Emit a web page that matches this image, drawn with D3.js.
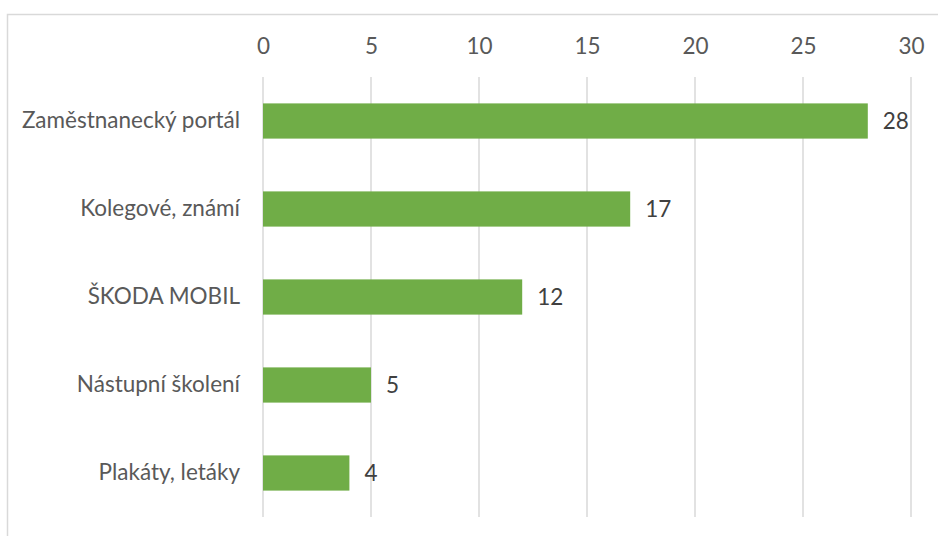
<!DOCTYPE html>
<html>
<head>
<meta charset="utf-8">
<script src="https://cdn.jsdelivr.net/npm/d3@7"></script>
<style>
  html, body { margin: 0; padding: 0; background: #ffffff; }
  svg { display: block; }
  text { font-family: Lato, "Open Sans", sans-serif; }
</style>
</head>
<body>
<svg id="chart" width="938" height="536"></svg>
<script>
// Information channels and number of responses
const categories = ["Zaměstnanecký portál", "Kolegové, známí", "ŠKODA MOBIL", "Nástupní školení", "Plakáty, letáky"];
const counts = [28, 17, 12, 5, 4];
const tickValues = [0, 5, 10, 15, 20, 25, 30];

const svg = d3.select("#chart");
const W = 938, H = 536;
const margin = { left: 263, right: 27, top: 77, bottom: 19 };
const fontSize = "22.5px";

// Chart area outline (extends past right and bottom edges)
svg.append("rect")
  .attr("x", 7.5).attr("y", 14.5)
  .attr("width", 1000).attr("height", 1000)
  .attr("fill", "none")
  .attr("stroke", "#d9d9d9")
  .attr("stroke-width", 1.5);

const x = d3.scaleLinear().domain([0, 30]).range([margin.left, W - margin.right]);
const y = d3.scaleBand().domain(categories)
  .range([margin.top, H - margin.bottom])
  .paddingInner(0.6).paddingOuter(0.3);

// Vertical gridlines
svg.append("g")
  .selectAll("line")
  .data(tickValues)
  .join("line")
  .attr("x1", d => x(d)).attr("x2", d => x(d))
  .attr("y1", margin.top).attr("y2", H - margin.bottom)
  .attr("stroke", "#d9d9d9")
  .attr("stroke-width", 1.5);

// Top value axis labels
const axis = d3.axisTop(x).tickValues(tickValues).tickSize(0).tickPadding(0);
const gAxis = svg.append("g").attr("transform", "translate(0,54)").call(axis);
gAxis.select(".domain").remove();
gAxis.selectAll("text")
  .attr("fill", "#595959")
  .style("font-size", fontSize)
  .style("font-family", "Lato, 'Open Sans', sans-serif");

// Category labels
const yAxis = d3.axisLeft(y).tickSize(0).tickPadding(23);
const gY = svg.append("g").attr("transform", `translate(${margin.left},0)`).call(yAxis);
gY.select(".domain").remove();
gY.selectAll("text")
  .attr("fill", "#595959")
  .style("font-size", fontSize)
  .style("font-family", "Lato, 'Open Sans', sans-serif");

// Bars
svg.append("g")
  .selectAll("rect")
  .data(categories)
  .join("rect")
  .attr("x", x(0))
  .attr("y", d => y(d))
  .attr("width", (d, i) => x(counts[i]) - x(0))
  .attr("height", y.bandwidth())
  .attr("fill", "#70ad47");

// Value labels
svg.append("g")
  .selectAll("text")
  .data(categories)
  .join("text")
  .attr("x", (d, i) => x(counts[i]) + 15)
  .attr("y", d => y(d) + y.bandwidth() / 2)
  .attr("dy", "0.35em")
  .attr("fill", "#404040")
  .style("font-size", fontSize)
  .text((d, i) => counts[i]);
</script>
</body>
</html>
